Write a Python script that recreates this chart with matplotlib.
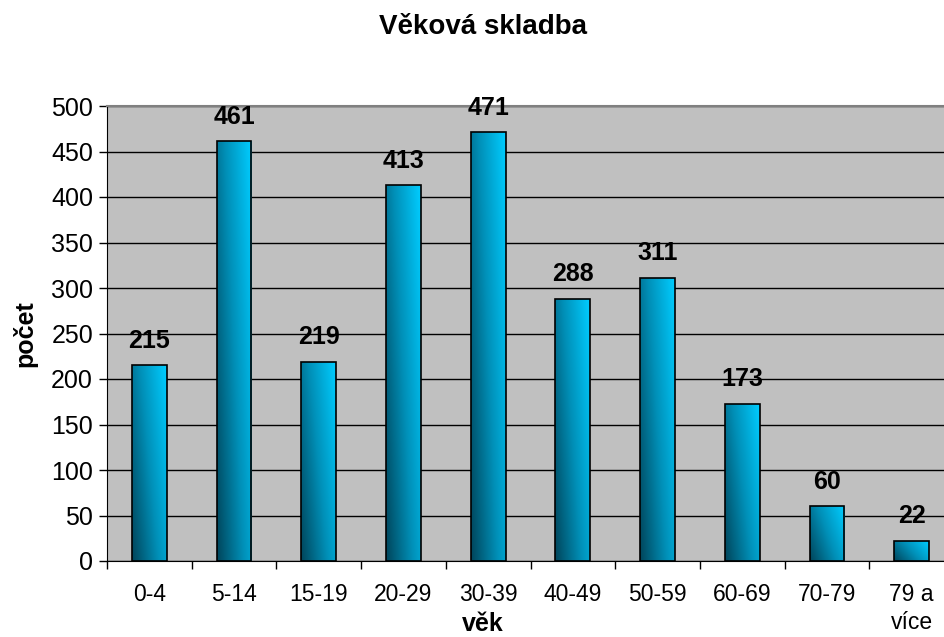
import matplotlib.pyplot as plt
import numpy as np
from matplotlib.colors import LinearSegmentedColormap

# age groups and counts
categories = ["0-4", "5-14", "15-19", "20-29", "30-39", "40-49",
              "50-59", "60-69", "70-79", "79 a\nvíce"]
counts = [215, 461, 219, 413, 471, 288, 311, 173, 60, 22]
yticks = [0, 50, 100, 150, 200, 250, 300, 350, 400, 450, 500]

plt.rcParams['font.family'] = ['Liberation Sans', 'DejaVu Sans']

fig = plt.figure(figsize=(9.45, 6.37), dpi=100)
# plot area runs past the right edge like in the source picture
ax = fig.add_axes([107 / 945, 76 / 637, 847 / 945, 455 / 637])
ax.set_facecolor("#c0c0c0")

x = np.arange(len(categories))
bars = ax.bar(x, counts, width=0.41, facecolor="none", edgecolor="black",
              linewidth=1.2, zorder=3)

# diagonal gradient: dark teal bottom-left -> bright cyan top-right
cmap = LinearSegmentedColormap.from_list("teal", ["#00465c", "#0090b8", "#00ccff"])
gx, gy = np.meshgrid(np.linspace(0, 1, 40), np.linspace(0, 1, 40))
grad = 0.65 * gx + 0.35 * gy
for b in bars:
    x0, y0 = b.get_x(), b.get_y()
    im = ax.imshow(grad, cmap=cmap, origin="lower", aspect="auto",
                   extent=[x0, x0 + b.get_width(), y0, y0 + b.get_height()],
                   zorder=2, interpolation="bilinear")
    im.set_clip_path(b)

for xi, v in zip(x, counts):
    ax.annotate(str(v), (xi, v), xytext=(0, 9), textcoords="offset points",
                ha="center", va="bottom", fontsize=18, fontweight="bold")

ax.set_xlim(-0.5, len(categories) - 0.5)
ax.set_ylim(0, 500)
ax.set_yticks(yticks)
ax.tick_params(axis="y", labelsize=18, length=6, width=1, pad=4)
ax.set_xticks(x)
ax.set_xticklabels(categories, fontsize=16.5, linespacing=1.25)
ax.tick_params(axis="x", length=0, pad=16)
ax.set_xticks(np.arange(len(categories) + 1) - 0.5, minor=True)
ax.tick_params(axis="x", which="minor", length=6, width=1)
ax.yaxis.grid(True, color="black", linewidth=1)
ax.set_axisbelow(True)

for s in ["left", "bottom"]:
    ax.spines[s].set_color("black")
ax.spines["top"].set_color("#808080")
ax.spines["top"].set_linewidth(1.5)
ax.spines["right"].set_visible(False)

ax.set_ylabel("počet", fontsize=18, fontweight="bold", labelpad=10)
fig.text(483 / 945, 1 - 624 / 637, "věk", ha="center", va="center",
         fontsize=18, fontweight="bold")
fig.text(483 / 945, 1 - 27 / 637, "Věková skladba", ha="center", va="center",
         fontsize=20, fontweight="bold")

fig.savefig("out.png", dpi=100)
